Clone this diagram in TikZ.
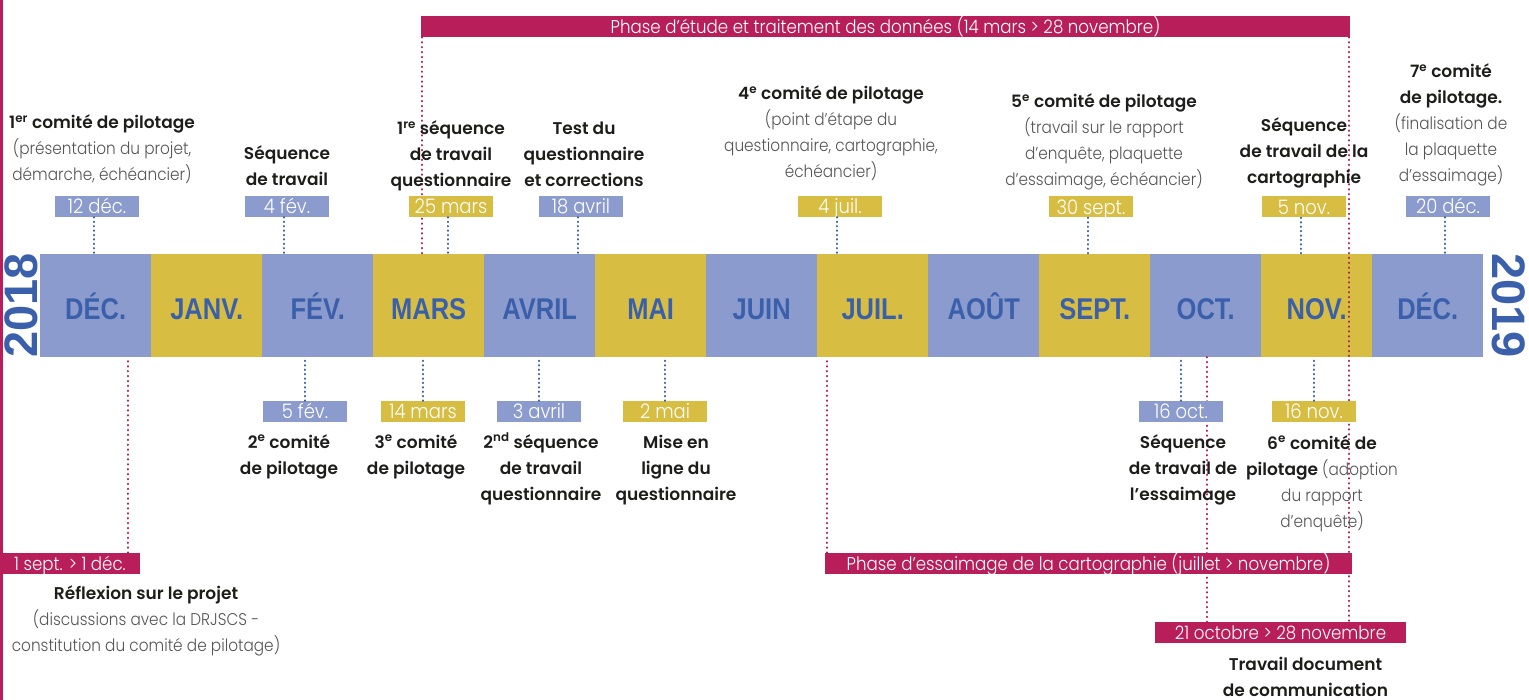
\documentclass[tikz,border=0pt]{standalone}
\usepackage{fontspec}
\usetikzlibrary{positioning}
\newfontfamily\lightfont{Poppins Light}[FakeStretch=0.9]
\newfontfamily\headfont{Poppins SemiBold}
\newfontfamily\monthfont{Liberation Sans}[FakeStretch=0.85]
\newfontfamily\yearfont{Liberation Sans}
\definecolor{lavender}{HTML}{8C9BCE}
\definecolor{gold}{HTML}{D7BD42}
\definecolor{monthblue}{HTML}{3A60AC}
\definecolor{phase}{HTML}{B81E5A}
\definecolor{ink}{HTML}{1D1D1B}
\definecolor{softgray}{HTML}{555555}
\newcommand\lt[1]{{\lightfont\color{softgray}#1}}
\pgfdeclarelayer{months}
\pgfdeclarelayer{dots}
\pgfsetlayers{months,dots,main}
\tikzset{
    month/.style={ % one block of the timeline
        minimum width=111pt, minimum height=103pt, inner sep=0pt,
        text height=29pt, text depth=0pt,
        anchor=west, text=monthblue,
        font=\monthfont\bfseries\fontsize{30}{30}\selectfont
    },
    datebox/.style={
        minimum width=84pt, minimum height=21pt, inner sep=0pt,
        text height=14.5pt, text depth=0pt,
        text=white, font=\lightfont\fontsize{20}{20}\selectfont
    },
    phasebar/.style={
        fill=phase, minimum height=21pt, inner sep=0pt,
        text height=14pt, text depth=0pt,
        text=white, font=\lightfont\fontsize{18.5}{18.5}\selectfont
    },
    event/.style={
        align=center, inner sep=0pt, text=ink,
        font=\headfont\fontsize{17}{26}\selectfont
    },
    tick/.style={draw=monthblue, line width=2pt, dash pattern=on 0.5pt off 3.9pt, line cap=round},
    phaseline/.style={draw=phase, line width=2pt, dash pattern=on 0.5pt off 4.4pt, line cap=round},
}

\begin{document}
\begin{tikzpicture}[x=1pt, y=-1pt]
    \useasboundingbox (0,0) rectangle (1529,700);
    \fill[phase] (0,0) rectangle (3,700);

    % timeline
    \begin{pgfonlayer}{months}
    \foreach \mname [count=\i from 0] in {DÉC.,JANV.,FÉV.,MARS,AVRIL,MAI,JUIN,JUIL.,AOÛT,SEPT.,OCT.,NOV.,DÉC.}{
        \ifodd\i\relax \def\mfill{gold}\else \def\mfill{lavender}\fi
        \node[month, fill=\mfill] (m\i) at (40+111*\i, 305.5) {\mname};
    }
    \end{pgfonlayer}
    \node[rotate=90, text=monthblue, inner sep=0pt, font=\yearfont\bfseries\fontsize{47}{47}\selectfont]  (y2018) at (21.5,305.5) {2018};
    \node[rotate=-90, text=monthblue, inner sep=0pt, font=\yearfont\bfseries\fontsize{47}{47}\selectfont] (y2019) at (1509,305.5) {2019};

    % phases
    \node[phasebar, minimum width=929pt] (etude)     at (885.5,26.5)  {Phase d’étude et traitement des données (14 mars > 28 novembre)};
    \node[phasebar, minimum width=527pt] (essaimage) at (1088.5,563.5) {Phase d’essaimage de la cartographie (juillet > novembre)};
    \node[phasebar, minimum width=251pt] (comm)      at (1280.5,632.5) {21 octobre > 28 novembre};
    \node[phasebar, minimum width=140pt] (reflexion) at (70,563.5)     {1 sept. > 1 déc.};

    \coordinate (etudeL) at ([xshift=1pt]etude.south west);
    \coordinate (etudeR) at ([xshift=-1pt]etude.south east);
    \coordinate (essL)   at ([xshift=2pt]essaimage.north west);
    \coordinate (reflR)  at ([xshift=-12pt]reflexion.north east);
    \coordinate (c21oct) at (1207,357);
    \begin{pgfonlayer}{dots}
    \draw[phaseline] (etudeL) -- (etudeL |- m0.north);
    \draw[phaseline] (etudeR) -- (etudeR |- comm.north);
    \draw[phaseline] (c21oct) -- (c21oct |- comm.north);
    \draw[phaseline] (essL)   -- (essL |- m0.south);
    \draw[phaseline] (reflR)  -- (reflR |- m0.south);
    \end{pgfonlayer}

    % dates above
    \node[datebox, fill=lavender] (t12dec)   at (97,206.5)   {12 déc.};
    \node[datebox, fill=lavender] (t4fev)    at (287,206.5)  {4 fév.};
    \node[datebox, fill=gold]     (t25mars)  at (451,206.5)  {25 mars};
    \node[datebox, fill=lavender] (t18avril) at (581,206.5)  {18 avril};
    \node[datebox, fill=gold]     (t4juil)   at (840,206.5)  {4 juil.};
    \node[datebox, fill=gold]     (t30sept)  at (1091,207)   {30 sept.};
    \node[datebox, fill=gold]     (t5nov)    at (1304,207)   {5 nov.};
    \node[datebox, fill=lavender] (t20dec)   at (1448,206.5) {20 déc.};
    % dates below
    \node[datebox, fill=lavender] (b5fev)    at (305,411.5)  {5 fév.};
    \node[datebox, fill=gold]     (b14mars)  at (423,411.5)  {14 mars};
    \node[datebox, fill=lavender] (b3avril)  at (539,411.5)  {3 avril};
    \node[datebox, fill=gold]     (b2mai)    at (665,411.5)  {2 mai};
    \node[datebox, fill=lavender] (b16oct)   at (1181,411.5) {16 oct.};
    \node[datebox, fill=gold]     (b16nov)   at (1314,411.5) {16 nov.};

    \foreach \d in {t12dec,t4fev,t25mars,t18avril,t4juil,t30sept,t5nov,t20dec}
        \draw[tick] ([xshift=-3pt]\d.south) -- ([xshift=-3pt]\d.south |- m0.north);
    \foreach \d in {b5fev,b14mars,b3avril,b2mai,b16oct,b16nov}
        \draw[tick] (\d.north) -- (\d.north |- m0.south);

    % events above
    \node[event, anchor=base, xshift=5pt,  yshift=15pt]   (e1) at (t12dec.north)   {1\textsuperscript{er} comité de pilotage\\\lt{(présentation du projet,}\\\lt{démarche, échéancier)}};
    \node[event, anchor=base, yshift=10.5pt]              (e2) at (t4fev.north)    {Séquence\\de travail};
    \node[event, anchor=base, yshift=9pt]                 (e3) at (t25mars.north)  {1\textsuperscript{re} séquence\\de travail\\questionnaire};
    \node[event, anchor=base, xshift=3pt,  yshift=9pt]    (e4) at (t18avril.north) {Test du\\questionnaire\\et corrections};
    \node[event, anchor=base, xshift=-9pt, yshift=18pt]   (e5) at (t4juil.north)   {4\textsuperscript{e} comité de pilotage\\\lt{(point d’étape du}\\\lt{questionnaire, cartographie,}\\\lt{échéancier)}};
    \node[event, anchor=base, xshift=13pt, yshift=10.5pt] (e6) at (t30sept.north)  {5\textsuperscript{e} comité de pilotage\\\lt{(travail sur le rapport}\\\lt{d’enquête, plaquette}\\\lt{d’essaimage, échéancier)}};
    \node[event, anchor=base, yshift=13pt]                (e7) at (t5nov.north)    {Séquence\\de travail de la\\cartographie};
    \node[event, anchor=base, xshift=3pt,  yshift=14pt]   (e8) at (t20dec.north)   {7\textsuperscript{e} comité\\de pilotage.\\\lt{(finalisation de}\\\lt{la plaquette}\\\lt{d’essaimage)}};

    % events below
    \node[event, anchor=base, xshift=-16pt, yshift=-52pt]  (f1) at (b5fev.south)   {2\textsuperscript{e} comité\\de pilotage};
    \node[event, anchor=base, xshift=-7pt,  yshift=-52pt]  (f2) at (b14mars.south) {3\textsuperscript{e} comité\\de pilotage};
    \node[event, anchor=base, xshift=2pt,   yshift=-78pt]  (f3) at (b3avril.south) {2\textsuperscript{nd} séquence\\de travail\\questionnaire};
    \node[event, anchor=base, xshift=11pt,  yshift=-78pt]  (f4) at (b2mai.south)   {Mise en\\ligne du\\questionnaire};
    \node[event, anchor=base, xshift=2pt,   yshift=-78pt]  (f5) at (b16oct.south)  {Séquence\\de travail de\\l’essaimage};
    \node[event, anchor=base, xshift=8pt,   yshift=-105pt] (f6) at (b16nov.south)  {6\textsuperscript{e} comité de\\pilotage \lt{(adoption}\\\lt{du rapport}\\\lt{d’enquête)}};
    \node[event, anchor=base, xshift=76pt,  yshift=-77pt]  (f7) at (reflexion.south) {Réflexion sur le projet\\\lt{(discussions avec la DRJSCS -}\\\lt{constitution du comité de pilotage)}};
    \node[event, anchor=base, xshift=25pt,  yshift=-53pt]  (f8) at (comm.south)    {Travail document\\de communication};
\end{tikzpicture}
\end{document}
